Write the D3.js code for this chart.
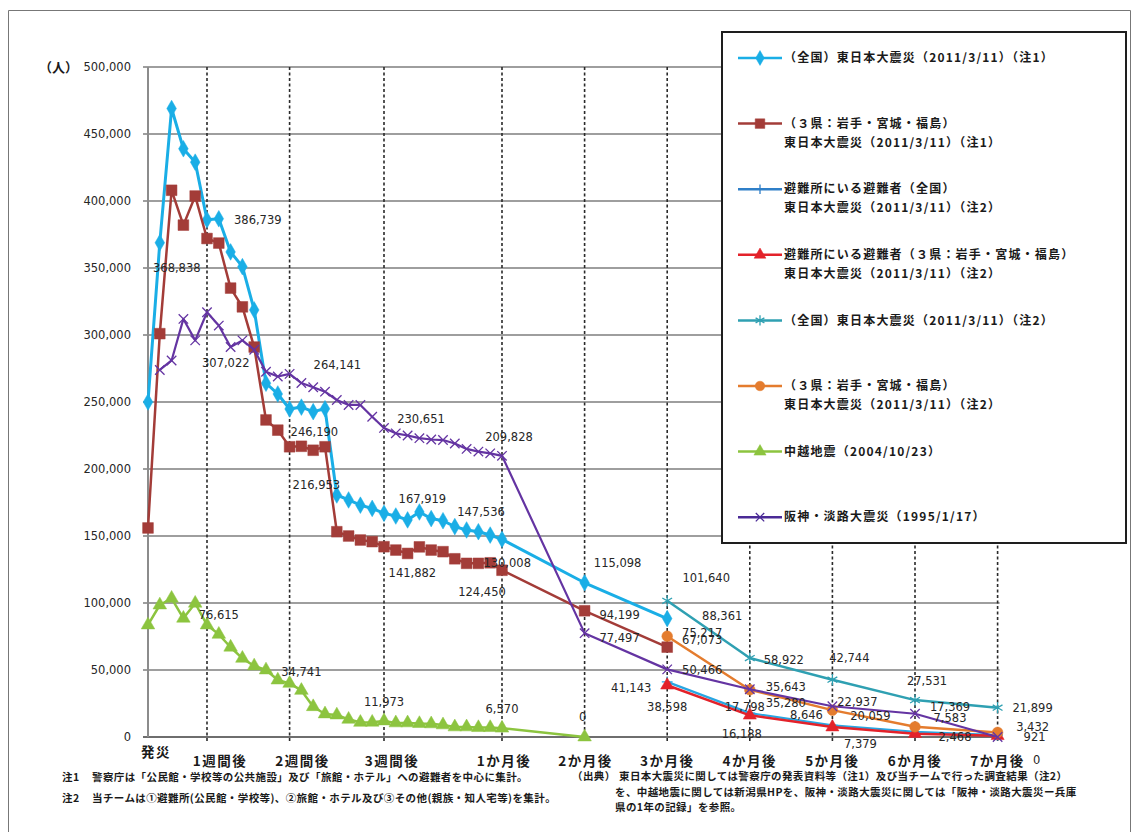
<!DOCTYPE html>
<html>
<head>
<meta charset="utf-8">
<script src="https://cdn.jsdelivr.net/npm/d3@7"></script>
<style>
body { margin: 0; background: #fff; }
.num { font-family: "DejaVu Sans", sans-serif; font-size: 11.5px; fill: #262626; }
.jp { font-family: "Noto Sans CJK JP", sans-serif; fill: #1a1a1a; }
</style>
</head>
<body>
<script>
// x axis is a category axis: slots 0..30 are the days of the first month,
// after that every month sits 7 slots further
var daySlots = d3.range(31)
var monthSlots = [37, 44, 51, 58, 65, 72]   // 2か月後 .. 7か月後

var tickSlots = [0, 5, 12, 20, 30, 37, 44, 51, 58, 65, 72]
var tickLabels = ["発災", "1週間後", "2週間後", "3週間後", "1か月後", "2か月後", "3か月後", "4か月後", "5か月後", "6か月後", "7か月後"]
var yTicks = [0, 50000, 100000, 150000, 200000, 250000, 300000, 350000, 400000, 450000, 500000]

// （全国）東日本大震災 (注1)
var zenkoku1Daily = [250000, 368838, 469000, 439000, 429000, 386000, 386739, 362000, 351000, 318700,
  264000, 256000, 244800, 246190, 242800, 245000, 180600, 176900, 173000, 170600,
  166900, 164900, 162000, 167919, 163000, 161400, 157000, 154500, 153200, 150700, 147536]
var zenkoku1Monthly = [115098, 88361]                 // 2,3か月後

// （3県）東日本大震災 (注1)
var sanken1Daily = [156000, 301000, 408000, 382000, 403700, 372000, 368600, 335000, 321000, 291000,
  236600, 229000, 216600, 216953, 214000, 216600, 153200, 150000, 147000, 145800,
  142000, 139500, 137000, 141882, 139500, 138300, 133000, 129600, 129600, 130008, 124450]
var sanken1Monthly = [94199, 67073]

// 避難所にいる避難者 (注2), 3..7か月後
var hinanZenkoku = [41143, 17798, 8646, 3900, 1500]
var hinanSanken = [38598, 16188, 7379, 2468, 921]

// 東日本大震災 (注2), 3..7か月後
var zenkoku2 = [101640, 58922, 42744, 27531, 21899]
var sanken2 = [75217, 35280, 20059, 7583, 3432]

// 中越地震
var chuetsuDaily = [83600, 98500, 103500, 88600, 99800, 83600, 76615, 67000, 58700, 53000,
  50000, 42500, 40000, 34741, 22600, 17200, 16400, 13200, 10900, 11000,
  11973, 10500, 10500, 10000, 9800, 9000, 7500, 7500, 7000, 7000, 6570]
var chuetsuMonthly = [0]

// 阪神・淡路大震災 (no value on slot 0)
var hanshinDaily = [null, 273900, 281000, 312000, 296000, 317000, 307022, 291000, 296000, 289000,
  272600, 269000, 271000, 264141, 261000, 257700, 251500, 247800, 247800, 239000,
  230651, 226600, 225000, 223000, 222000, 221600, 219000, 215000, 213000, 211700, 209828]
var hanshinMonthly = [77497, 50466, 35643, 22937, 17369, 0]

var legendLabels = [
  ["（全国）東日本大震災（2011/3/11）（注1）"],
  ["（３県：岩手・宮城・福島）", "東日本大震災（2011/3/11）（注1）"],
  ["避難所にいる避難者（全国）", "東日本大震災（2011/3/11）（注2）"],
  ["避難所にいる避難者（３県：岩手・宮城・福島）", "東日本大震災（2011/3/11）（注2）"],
  ["（全国）東日本大震災（2011/3/11）（注2）"],
  ["（３県：岩手・宮城・福島）", "東日本大震災（2011/3/11）（注2）"],
  ["中越地震（2004/10/23）"],
  ["阪神・淡路大震災（1995/1/17）"]
]

function join(dailyVals, monthlyVals, monthOffset) {
  var pts = []
  if (dailyVals) dailyVals.forEach((v, i) => pts.push({slot: daySlots[i], value: v}))
  monthlyVals.forEach((v, i) => pts.push({slot: monthSlots[i + monthOffset], value: v}))
  return pts
}

var series = [
  {key: "z1", color: "#1aaee6", width: 3, sym: d3.symbolDiamond, size: 80, fill: true,
   points: join(zenkoku1Daily, zenkoku1Monthly, 0)},
  {key: "s1", color: "#a33c38", width: 2.5, sym: d3.symbolSquare, size: 115, fill: true,
   points: join(sanken1Daily, sanken1Monthly, 0)},
  {key: "hz", color: "#28a6e2", width: 2.2, sym: d3.symbolPlus, size: 40, fill: false,
   points: join(null, hinanZenkoku, 1)},
  {key: "hk", color: "#e3222a", width: 2.5, sym: d3.symbolTriangle, size: 75, fill: true,
   points: join(null, hinanSanken, 1)},
  {key: "z2", color: "#2fa0b2", width: 2.5, sym: d3.symbolAsterisk, size: 90, fill: false,
   points: join(null, zenkoku2, 1)},
  {key: "s2", color: "#e47c2e", width: 2.5, sym: d3.symbolCircle, size: 90, fill: true,
   points: join(null, sanken2, 1)},
  {key: "ch", color: "#8cc43f", width: 2.5, sym: d3.symbolTriangle, size: 80, fill: true,
   points: join(chuetsuDaily, chuetsuMonthly, 0)},
  {key: "hs", color: "#6434a2", width: 2.2, sym: d3.symbolTimes, size: 60, fill: false,
   points: join(hanshinDaily, hanshinMonthly, 0)}
]
var legendColors = ["#1aaee6", "#a33c38", "#2f7fc8", "#e3222a", "#2fa0b2", "#e47c2e", "#8cc43f", "#4a2a96"]

// data labels: series key, slot of the point, offset of the label centre
var labelOffsets = [
  ["z1", 1, 17, 25], ["z1", 6, 39, 1], ["z1", 13, 13, 25], ["z1", 23, 3, -13], ["z1", 30, -21, -27],
  ["z1", 37, 33, -20], ["z1", 44, 55, -3],
  ["s1", 13, 15, 39], ["s1", 23, -7, 26], ["s1", 29, 17, 0], ["s1", 30, -20, 22],
  ["s1", 37, 35, 4], ["s1", 44, 35, -7],
  ["hs", 6, 7, 37], ["hs", 13, 36, -18], ["hs", 20, 37, -9], ["hs", 30, 7, -19],
  ["hs", 37, 35, 5], ["hs", 44, 35, 1], ["hs", 51, 36, -2], ["hs", 58, 25, -4], ["hs", 65, 35, -7], ["hs", 72, 39, 23],
  ["ch", 6, 0, -19], ["ch", 13, 0, -18], ["ch", 20, 0, -19], ["ch", 30, 0, -19], ["ch", 37, -2, -20],
  ["z2", 44, 39, -23], ["z2", 51, 34, 2], ["z2", 58, 17, -22], ["z2", 65, 12, -19], ["z2", 72, 35, 0],
  ["s2", 44, 35, -3], ["s2", 51, 36, 13], ["s2", 58, 38, 6], ["s2", 65, 35, -9], ["s2", 72, 35, -5],
  ["hz", 44, -36, 6], ["hz", 51, -5, -6], ["hz", 58, -26, -10],
  ["hk", 44, 0, 22], ["hk", 51, -8, 19], ["hk", 58, 28, 17], ["hk", 65, 40, 3], ["hk", 72, 37, 1]
]

var width = 1136, height = 832
var plotL = 148, plotR = 997.6, plotT = 67, plotB = 737

var x = d3.scaleLinear().domain([0, 72]).range([plotL, plotR])
var y = d3.scaleLinear().domain([0, 500000]).range([plotB, plotT])
var fmt = d3.format(",")

var svg = d3.select("body").append("svg")
    .attr("width", width)
    .attr("height", height)

// outer frame
svg.append("path")
    .attr("d", "M8.5,832V10.5H1130.5V832")
    .attr("fill", "none")
    .attr("stroke", "#777")

// grid
svg.append("g").selectAll("line")
    .data(yTicks)
  .enter().append("line")
    .attr("x1", plotL - 5).attr("x2", plotR + 2)
    .attr("y1", d => y(d)).attr("y2", d => y(d))
    .attr("stroke", d => d === 0 ? "#6e6e6e" : "#9e9e9e")
    .attr("stroke-width", 2)

svg.append("line")
    .attr("x1", plotL).attr("x2", plotL)
    .attr("y1", plotT).attr("y2", plotB)
    .attr("stroke", "#8c8c8c").attr("stroke-width", 2)

svg.append("g").selectAll("line")
    .data(tickSlots.slice(1))
  .enter().append("line")
    .attr("x1", d => x(d)).attr("x2", d => x(d))
    .attr("y1", plotT).attr("y2", plotB + 5)
    .attr("stroke", "#2a2a2a")
    .attr("stroke-width", 1.6)
    .attr("stroke-dasharray", "3,2.5")

// y labels
svg.append("g").selectAll("text")
    .data(yTicks)
  .enter().append("text")
    .attr("class", "num")
    .attr("x", 131).attr("y", d => y(d))
    .attr("dy", "0.35em")
    .attr("text-anchor", "end")
    .text(d => fmt(d))

svg.append("text")
    .attr("class", "jp")
    .attr("x", 39).attr("y", plotT)
    .attr("dy", "0.35em")
    .style("font-size", "13px")
    .style("font-weight", 700)
    .text("（人）")

// x labels (week labels sit a little right of their line, like the original)
var tickShift = [8, 13, 13, 8, 2, 1, 0, 0, 0, 0, 0]
svg.append("g").selectAll("text")
    .data(tickSlots)
  .enter().append("text")
    .attr("class", "jp")
    .attr("x", (d, i) => x(d) + tickShift[i])
    .attr("y", (d, i) => i === 0 ? 757 : 766)
    .attr("text-anchor", "middle")
    .style("font-size", "13.5px")
    .style("font-weight", 700)
    .style("letter-spacing", "1.5px")
    .text((d, i) => tickLabels[i])

// lines + markers
var line = d3.line()
    .defined(d => d.value !== null)
    .x(d => x(d.slot))
    .y(d => y(d.value))

series.forEach(s => {
  var g = svg.append("g")
  g.append("path")
      .datum(s.points)
      .attr("d", line)
      .attr("fill", "none")
      .attr("stroke", s.color)
      .attr("stroke-width", s.width)
      .attr("stroke-linejoin", "round")
  g.selectAll("path.m")
      .data(s.points.filter(d => d.value !== null))
    .enter().append("path")
      .attr("class", "m")
      .attr("transform", d => "translate(" + x(d.slot) + "," + y(d.value) + ")")
      .attr("d", d3.symbol().type(s.sym).size(s.size))
      .attr("fill", s.fill ? s.color : "none")
      .attr("stroke", s.color)
      .attr("stroke-width", s.fill ? 0.5 : 1.3)
})

// data labels
var byKey = {}
series.forEach(s => byKey[s.key] = s)
svg.append("g").selectAll("text")
    .data(labelOffsets)
  .enter().append("text")
    .attr("class", "num")
    .attr("text-anchor", "middle")
    .attr("dy", "0.35em")
    .each(function(d) {
      var p = byKey[d[0]].points.find(q => q.slot === d[1])
      d3.select(this)
          .attr("x", x(p.slot) + d[2])
          .attr("y", y(p.value) + d[3])
          .text(fmt(p.value))
    })

// legend
var lg = svg.append("g")
lg.append("rect")
    .attr("x", 722).attr("y", 32)
    .attr("width", 404).attr("height", 511)
    .attr("fill", "#fff")
    .attr("stroke", "#1e1e1e")
    .attr("stroke-width", 2)

legendLabels.forEach((lines, i) => {
  var s = series[i]
  var ly = 58 + i * 65.6
  var c = legendColors[i]
  lg.append("line")
      .attr("x1", 738).attr("x2", 782)
      .attr("y1", ly).attr("y2", ly)
      .attr("stroke", c).attr("stroke-width", 2.5)
  lg.append("path")
      .attr("transform", "translate(760," + ly + ")")
      .attr("d", d3.symbol().type(s.sym).size(s.size * 0.8))
      .attr("fill", s.fill ? c : "none")
      .attr("stroke", c)
      .attr("stroke-width", s.fill ? 0.5 : 1.3)
  lines.forEach((t, j) => {
    lg.append("text")
        .attr("class", "jp")
        .attr("x", 784).attr("y", ly + j * 19)
        .attr("dy", "0.35em")
        .style("font-size", "12px")
        .style("font-weight", 700)
        .style("letter-spacing", "1.2px")
        .text(t)
  })
})

// footnotes
var notes = svg.append("g")
    .attr("class", "jp")
    .style("font-size", "10.5px")
    .style("font-weight", 700)
    .style("letter-spacing", "0.4px")
notes.append("text").attr("x", 62).attr("y", 781).text("注1")
notes.append("text").attr("x", 92).attr("y", 781).text("警察庁は「公民館・学校等の公共施設」及び「旅館・ホテル」への避難者を中心に集計。")
notes.append("text").attr("x", 62).attr("y", 802).text("注2")
notes.append("text").attr("x", 92).attr("y", 802).text("当チームは①避難所(公民館・学校等)、②旅館・ホテル及び③その他(親族・知人宅等)を集計。")
notes.append("text").attr("x", 572).attr("y", 780).text("（出典）")
notes.append("text").attr("x", 619).attr("y", 780).text("東日本大震災に関しては警察庁の発表資料等（注1）及び当チームで行った調査結果（注2）")
notes.append("text").attr("x", 615).attr("y", 796).text("を、中越地震に関しては新潟県HPを、阪神・淡路大震災に関しては「阪神・淡路大震災ー兵庫")
notes.append("text").attr("x", 615).attr("y", 811).text("県の1年の記録」を参照。")
</script>
</body>
</html>
